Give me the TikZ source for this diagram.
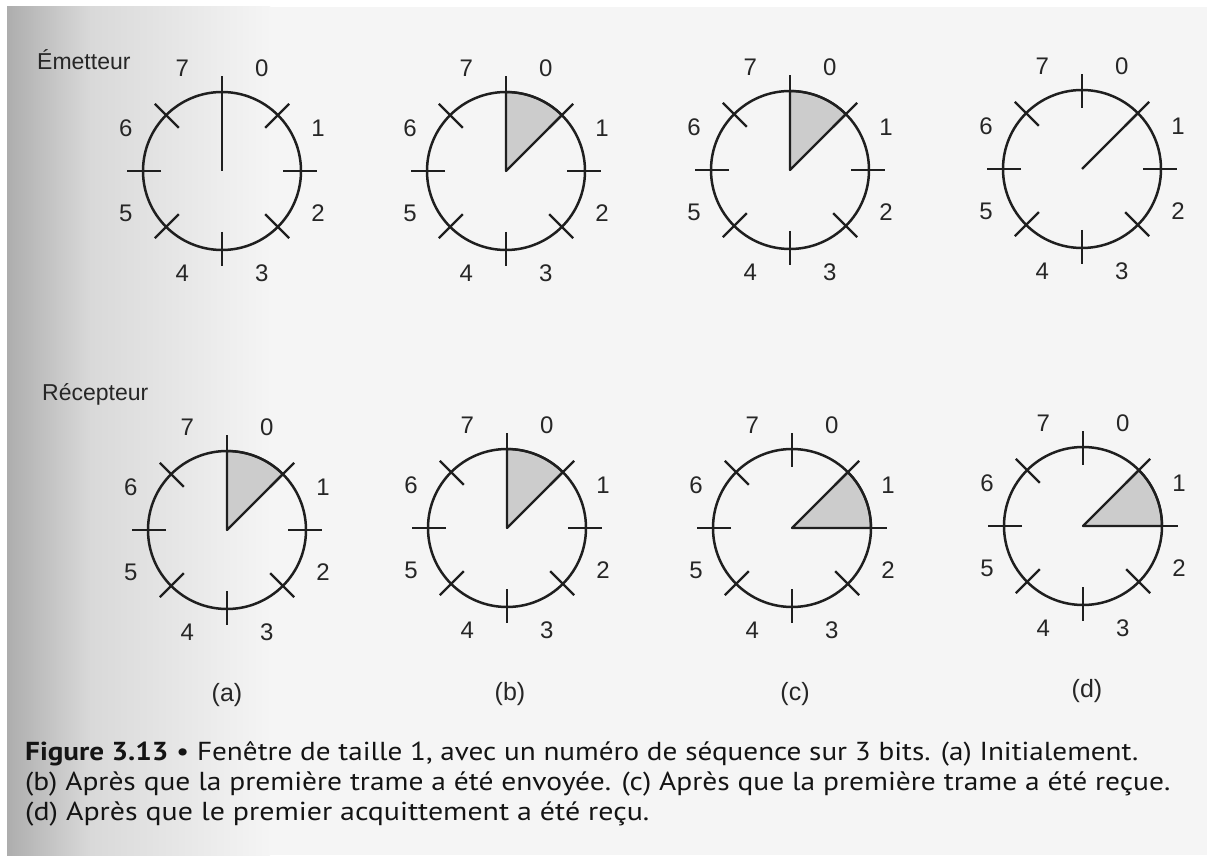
\documentclass[tikz,border=0pt]{standalone}
\usepackage{fontspec}
\usepackage{graphicx}
\setmainfont{Liberation Sans}
\newfontfamily\capfont{PT Sans}
\usetikzlibrary{calc}

\newcommand\DialFace[1]{%
  \draw[dialline] (#1) circle[radius=79];
  \foreach \a in {0,45,...,315}
    \draw[tickline] ($(#1)+(\a:61)$) -- ($(#1)+(\a:95)$);
  \foreach \n in {0,...,7}
    \node[numlab] (#1-n\n) at ($(#1)+({104*cos(67.5-45*\n)},{111*sin(67.5-45*\n)})$) {\n};
}
\newcommand\Wedge[3]{%
  \filldraw[wedge] (#1) -- ($(#1)+(#2:79)$) arc[start angle=#2, end angle=#3, radius=79] -- cycle;
}

\begin{document}
\begin{tikzpicture}[x=1pt,y=1pt,
  dialline/.style={line width=2.5pt, draw=black!88},
  tickline/.style={line width=2.2pt, draw=black!88},
  wedge/.style={fill=black!20, draw=black!88, line width=2.2pt, line join=round},
  numlab/.style={font=\fontsize{24}{24}\selectfont, text=black!85, inner sep=0pt},
  sublab/.style={font=\fontsize{25}{25}\selectfont, text=black!85, inner sep=0pt},
  rowlab/.style={font=\fontsize{23}{24}\selectfont, text=black!85, inner sep=0pt, anchor=base west},
  caplab/.style={font=\capfont\fontsize{26}{27}\selectfont, text=black!92, inner sep=0pt, anchor=base west}]
\useasboundingbox (0,0) rectangle (1207,855);
% paper
\fill[white] (0,0) rectangle (1207,855);
\fill[black!4] (7,0) rectangle (1207,848);
\shade[left color=black!32, right color=black!15] (7,0) rectangle (90,848);
\shade[left color=black!15, right color=black!4] (90,0) rectangle (270,848);

% centres
\coordinate (ea) at (222,684);
\coordinate (eb) at (506,684);
\coordinate (ec) at (790,685);
\coordinate (ed) at (1082,686);
\coordinate (ra) at (227,325);
\coordinate (rb) at (507,327);
\coordinate (rc) at (792,327);
\coordinate (rd) at (1083,329);

% windows
\Wedge{eb}{45}{90}
\Wedge{ec}{45}{90}
\Wedge{ra}{45}{90}
\Wedge{rb}{45}{90}
\Wedge{rc}{0}{45}
\Wedge{rd}{0}{45}
\draw[tickline] (ea) -- ($(ea)+(90:79)$);
\draw[tickline] (ed) -- ($(ed)+(45:79)$);

% dials
\DialFace{ea}
\DialFace{eb}
\DialFace{ec}
\DialFace{ed}
\DialFace{ra}
\DialFace{rb}
\DialFace{rc}
\DialFace{rd}

% row labels
\node[rowlab] (lem) at (37,785) {Émetteur};
\node[rowlab] (lre) at (42,454) {Récepteur};

% sub-labels
\node[sublab] (la) at (227,160) {(a)};
\node[sublab] (lb) at (510,161) {(b)};
\node[sublab] (lc) at (795,161) {(c)};
\node[sublab] (ld) at (1087,164) {(d)};

% caption
\node[caplab] (c1) at (25,95) {\resizebox{1113pt}{\height}{\textbf{Figure 3.13} • Fenêtre de taille 1, avec un numéro de séquence sur 3 bits. (a) Initialement.}};
\node[caplab] (c2) at (25,65) {\resizebox{1145pt}{\height}{(b) Après que la première trame a été envoyée. (c) Après que la première trame a été reçue.}};
\node[caplab] (c3) at (25,35) {\resizebox{624pt}{\height}{(d) Après que le premier acquittement a été reçu.}};
\end{tikzpicture}
\end{document}
